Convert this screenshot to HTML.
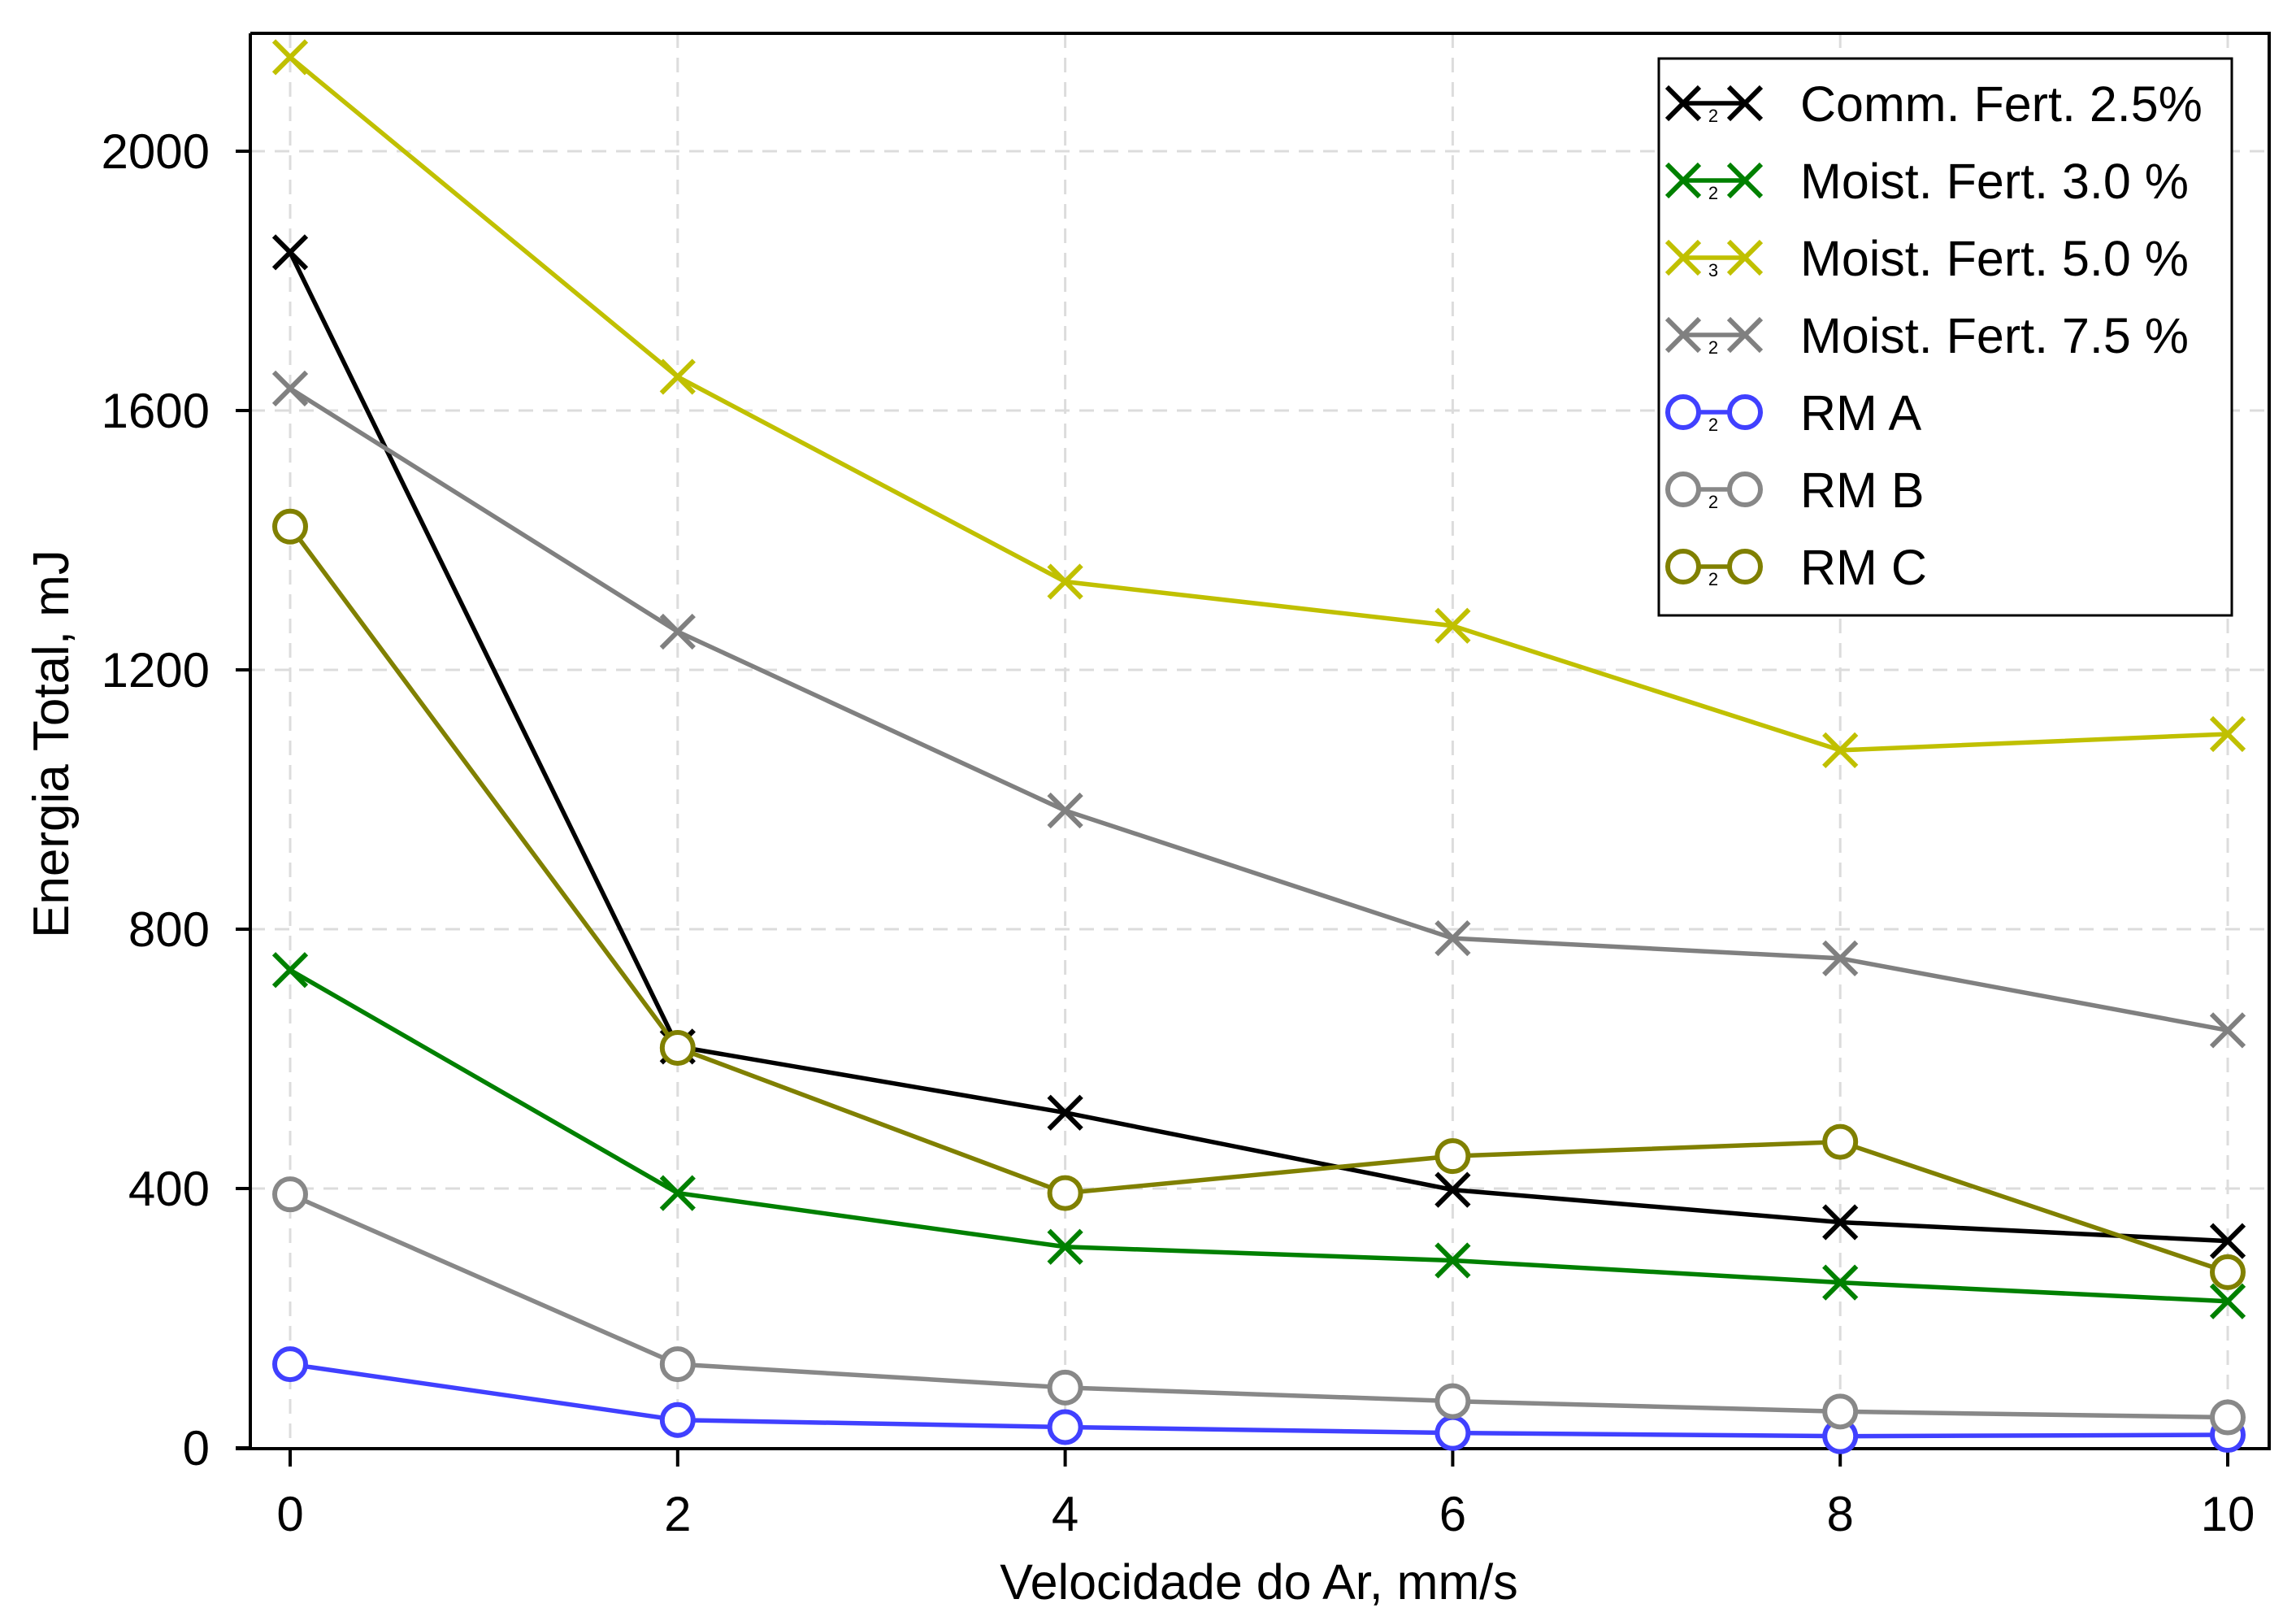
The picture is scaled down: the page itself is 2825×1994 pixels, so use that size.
<!DOCTYPE html>
<html><head><meta charset="utf-8"><style>
html,body{margin:0;padding:0;background:#fff;}
svg{display:block;font-family:"Liberation Sans",Arial,sans-serif;}
</style></head><body>
<svg id="chart" width="2825" height="1994" viewBox="0 0 2825 1994" xmlns="http://www.w3.org/2000/svg">
<rect width="2825" height="1994" fill="#fff"/>
<g id="grid"></g>
<g id="axes"></g>
<g id="series"></g>
<g id="legend"></g>
</svg>
<script>
const xValues = [0, 2, 4, 6, 8, 10];
const xTicks = [0, 2, 4, 6, 8, 10];
const yTicks = [0, 400, 800, 1200, 1600, 2000];
const seriesNames = ["Comm. Fert. 2.5%", "Moist. Fert. 3.0 %", "Moist. Fert. 5.0 %", "Moist. Fert. 7.5 %", "RM A", "RM B", "RM C"];
const commFert25 = [1844, 619, 517, 398, 348, 319];
const moistFert30 = [737, 393, 310, 289, 255, 226];
const moistFert50 = [2145, 1652, 1336, 1268, 1076, 1101];
const moistFert75 = [1634, 1259, 983, 786, 755, 644];
const rmA = [129, 43, 32, 23, 18, 20];
const rmB = [391, 129, 93, 72, 56, 47];
const rmC = [1421, 617, 393, 450, 472, 271];

const NS = "http://www.w3.org/2000/svg";
const L = 308, R = 2792, T = 41, B = 1782;
function xs(v){ return 357 + v * 238.4; }
function ys(v){ return 1781 - v * 0.7975; }
function mk(tag, attrs, parent){
  const e = document.createElementNS(NS, tag);
  for (const k in attrs) e.setAttribute(k, attrs[k]);
  parent.appendChild(e);
  return e;
}
const grid = document.getElementById('grid');
const axes = document.getElementById('axes');
const series = document.getElementById('series');
const legend = document.getElementById('legend');

xTicks.forEach(t => {
  const g = mk('line', {x1: xs(t), x2: xs(t), y1: T, y2: B, stroke: '#dcdcdc', 'stroke-width': 3, 'stroke-dasharray': '18,12'}, grid);
  
  
  const tk = mk('line', {x1: xs(t), x2: xs(t), y1: B, y2: B + 22, stroke: '#000', 'stroke-width': 4}, axes);
  
  
  const lb = mk('text', {x: xs(t), y: 1883, 'font-size': 60, 'text-anchor': 'middle'}, axes);
  lb.textContent = t;
  
  
});
yTicks.forEach(t => {
  if (t > 0) {
    const g = mk('line', {x1: L, x2: R, y1: ys(t), y2: ys(t), stroke: '#dcdcdc', 'stroke-width': 3, 'stroke-dasharray': '18,12'}, grid);
    
    
  }
  const tk = mk('line', {x1: 290, x2: L, y1: ys(t), y2: ys(t), stroke: '#000', 'stroke-width': 4}, axes);
  
  
  const lb = mk('text', {x: 258, y: ys(t) + 21, 'font-size': 60, 'text-anchor': 'end'}, axes);
  lb.textContent = t;
  
  
});
const frame = mk('path', {d: `M${L},${T} H${R} V${B} H290 M${L},${B} V${T}`, fill: 'none', stroke: '#000', 'stroke-width': 4}, axes);


const xt = mk('text', {x: 1549, y: 1967, 'font-size': 61, 'text-anchor': 'middle'}, axes);
xt.textContent = 'Velocidade do Ar, mm/s';


const yt = mk('text', {x: 0, y: 0, 'font-size': 62, 'text-anchor': 'middle', transform: 'translate(84,915) rotate(-90)'}, axes);
yt.textContent = 'Energia Total, mJ';



const defs = [
  {vals: commFert25, color: '#000000', m: 'x', n: '2', key: 'comm-fert-2-5'},
  {vals: moistFert30, color: '#008000', m: 'x', n: '2', key: 'moist-fert-3-0'},
  {vals: moistFert50, color: '#c0c000', m: 'x', n: '3', key: 'moist-fert-5-0'},
  {vals: moistFert75, color: '#808080', m: 'x', n: '2', key: 'moist-fert-7-5'},
  {vals: rmA, color: '#4040ff', m: 'o', n: '2', key: 'rm-a'},
  {vals: rmB, color: '#888888', m: 'o', n: '2', key: 'rm-b'},
  {vals: rmC, color: '#808000', m: 'o', n: '2', key: 'rm-c'}
];
function marker(type, cx, cy, color, parent){
  let e;
  if (type === 'x') {
    const s = 20;
    e = mk('path', {d: `M${cx-s},${cy-s} L${cx+s},${cy+s} M${cx-s},${cy+s} L${cx+s},${cy-s}`, stroke: color, 'stroke-width': 6, fill: 'none'}, parent);
  } else {
    e = mk('circle', {cx: cx, cy: cy, r: 19, fill: '#fff', stroke: color, 'stroke-width': 6}, parent);
  }
  return e;
}
const LX = -11;
const lbg = mk('rect', {x: 2052 + LX, y: 72, width: 705, height: 685, fill: '#fff', stroke: '#000', 'stroke-width': 3}, legend);



defs.forEach((d, si) => {
  const g = mk('g', {}, series);
  
  
  const pts = d.vals.map((v, i) => xs(xValues[i]) + ',' + ys(v)).join(' ');
  const pl = mk('polyline', {points: pts, fill: 'none', stroke: d.color, 'stroke-width': 5.5}, g);
  
  
  d.vals.forEach((v, i) => {
    const m = marker(d.m, xs(xValues[i]), ys(v), d.color, g);
    
    
  });
  const ly = 127 + si * 95;
  const lg = mk('g', {}, legend);
  
  
  mk('line', {x1: 2082 + LX, x2: 2158 + LX, y1: ly, y2: ly, stroke: d.color, 'stroke-width': 5.5}, lg);
  marker(d.m, 2082 + LX, ly, d.color, lg);
  marker(d.m, 2158 + LX, ly, d.color, lg);
  const sub = mk('text', {x: 2119 + LX, y: ly + 23, 'font-size': 22, 'text-anchor': 'middle'}, lg);
  sub.textContent = d.n;
  const lt = mk('text', {x: 2226 + LX, y: ly + 22, 'font-size': 61}, lg);
  lt.textContent = seriesNames[si];
});
</script>
</body></html>
